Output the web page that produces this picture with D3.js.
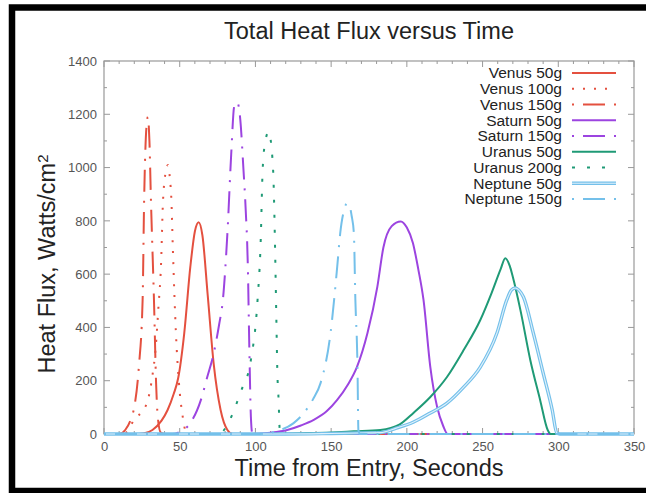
<!DOCTYPE html>
<html>
<head>
<meta charset="utf-8">
<script src="https://cdn.jsdelivr.net/npm/d3@7"></script>
<style>
  body { margin: 0; background: #fff; }
  text { font-family: "Liberation Sans", Arial, Helvetica, sans-serif; }
</style>
</head>
<body>
<script>
// series values (time in s, heat flux in W/cm2)
var venus50T  = [0, 20, 26, 32, 38, 42, 46, 49, 53, 57, 60, 62.5, 65, 68.5, 72.5, 77, 81.5, 85, 350];
var venus50V  = [0, 0, 2, 15, 50, 90, 150, 210, 379, 627, 760, 795, 745, 520, 260, 90, 15, 0, 0];
var venus100T = [0, 13, 20, 25, 29, 32, 34, 36, 37.6, 39, 41, 42.3, 43.5, 44.5, 45.5, 47.5, 49.5, 52, 54, 57, 350];
var venus100V = [0, 0, 53, 85, 128, 220, 315, 480, 627, 878, 990, 1010, 960, 878, 690, 379, 191, 64, 10, 0, 0];
var venus150T = [0, 10, 14, 18, 20, 23, 25.5, 26.5, 28, 29, 30, 31, 33, 34.4, 35.5, 37.5, 40, 350];
var venus150V = [0, 0, 15, 60, 101, 251, 503, 878, 1150, 1190, 1100, 878, 503, 191, 64, 5, 0, 0];
var saturn50T = [0, 95, 110, 121, 130, 138.5, 147, 154, 161, 167, 174, 180.5, 184.5, 190, 196, 200, 204, 207.5, 211, 215.5, 220, 224, 227, 350];
var saturn50V = [0, 0, 5, 15, 32, 53, 85, 128, 185, 251, 379, 552, 700, 780, 798, 775, 717, 620, 503, 251, 101, 30, 0, 0];
var saturn150T = [0, 45, 50, 57, 64, 68, 72.5, 76, 78.5, 81.5, 84, 86, 88, 90, 92, 93.5, 95, 96, 97, 98, 100, 350];
var saturn150V = [0, 0, 8, 41, 128, 210, 304, 410, 503, 754, 1050, 1230, 1245, 1180, 1002, 850, 627, 315, 64, 0, 0, 0];
var uranus50T = [0, 100, 130, 150, 165, 182.5, 195, 204.5, 215.5, 226.5, 237.5, 248.5, 256, 262, 265, 268, 270, 275, 281.5, 288, 293, 295, 350];
var uranus50V = [0, 0, 3, 6, 10, 15, 35, 80, 139, 214, 315, 428, 530, 620, 660, 630, 589, 465, 278, 128, 15, 0, 0];
var uranus200T = [0, 70, 77, 84, 90, 97, 101.4, 103.5, 104.6, 106, 108.8, 110.5, 112, 113, 113.8, 114.5, 115.3, 116, 117, 350];
var uranus200V = [0, 0, 5, 64, 154, 278, 503, 728, 965, 1080, 1135, 1080, 942, 690, 439, 229, 128, 20, 0, 0];
var neptune50T = [0, 120, 150, 170, 182.5, 193, 204.5, 215.5, 226.5, 237.5, 248.5, 259.5, 266, 269, 271.5, 274, 277, 283.5, 290, 296, 299, 301, 350];
var neptune50V = [0, 0, 2, 4, 5, 22, 45, 79, 116, 176, 251, 379, 503, 540, 548, 540, 514, 379, 229, 90, 4, 0, 0];
var neptune150T = [0, 100, 110, 116.6, 125, 132, 138, 143, 149.6, 154, 156, 158.5, 160.5, 162, 163.5, 165, 166, 167.4, 168, 169, 350];
var neptune150V = [0, 0, 5, 15, 40, 79, 130, 191, 379, 627, 754, 840, 865, 860, 820, 754, 503, 251, 15, 0, 0];

var seriesNames = ["Venus 50g", "Venus 100g", "Venus 150g", "Saturn 50g", "Saturn 150g",
                   "Uranus 50g", "Uranus 200g", "Neptune 50g", "Neptune 150g"];
var xTicks = [0, 50, 100, 150, 200, 250, 300, 350];
var yTicks = [0, 200, 400, 600, 800, 1000, 1200, 1400];

var red = "#e4503f", purple = "#9c44e0", green = "#1f9a76", blue = "#74c0ea";
var dot = "2,9", dotdash = "2,9,22,9", sparse = "3,12";

var series = [
  {t: venus50T,    v: venus50V,    color: red,    dash: null},
  {t: venus100T,   v: venus100V,   color: red,    dash: dot},
  {t: venus150T,   v: venus150V,   color: red,    dash: dotdash},
  {t: saturn50T,   v: saturn50V,   color: purple, dash: null},
  {t: saturn150T,  v: saturn150V,  color: purple, dash: dotdash},
  {t: uranus50T,   v: uranus50V,   color: green,  dash: null},
  {t: uranus200T,  v: uranus200V,  color: green,  dash: sparse},
  {t: neptune50T,  v: neptune50V,  color: blue,   dash: null, dbl: true},
  {t: neptune150T, v: neptune150V, color: blue,   dash: dotdash}
];

var width = 646, height = 493;
var pLeft = 104, pRight = 634, pTop = 61, pBottom = 434;

var svg = d3.select("body").append("svg")
  .attr("width", width)
  .attr("height", height);

// outer black frame (right side falls outside the picture)
svg.append("rect")
  .attr("x", 12).attr("y", 7.5)
  .attr("width", 700).attr("height", 483.5)
  .attr("fill", "none").attr("stroke", "#000").attr("stroke-width", 6.5);

var x = d3.scaleLinear().domain([0, 350]).range([pLeft, pRight]);
var y = d3.scaleLinear().domain([0, 1400]).range([pBottom, pTop]);

var axisColor = "#999";

// ticks, gnuplot style: inward on all four sides, minor ticks between
var minorX = d3.range(0, 351, 10), minorY = d3.range(0, 1401, 100);
var tk = svg.append("g").attr("stroke", axisColor).attr("stroke-width", 1);
minorX.forEach(function(d) {
  var len = d % 50 == 0 ? 6 : 3;
  tk.append("line").attr("x1", x(d)).attr("x2", x(d)).attr("y1", pBottom).attr("y2", pBottom - len);
  tk.append("line").attr("x1", x(d)).attr("x2", x(d)).attr("y1", pTop).attr("y2", pTop + len);
});
minorY.forEach(function(d) {
  var len = d % 200 == 0 ? 6 : 3;
  tk.append("line").attr("y1", y(d)).attr("y2", y(d)).attr("x1", pLeft).attr("x2", pLeft + len);
  tk.append("line").attr("y1", y(d)).attr("y2", y(d)).attr("x1", pRight).attr("x2", pRight - len);
});

svg.append("rect")
  .attr("x", pLeft).attr("y", pTop)
  .attr("width", pRight - pLeft).attr("height", pBottom - pTop)
  .attr("fill", "none").attr("stroke", axisColor).attr("stroke-width", 1.2);

// tick labels through d3 axes, lines hidden
var xAxis = svg.append("g")
  .attr("transform", "translate(0," + (pBottom + 8) + ")")
  .call(d3.axisBottom(x).tickValues(xTicks).tickFormat(d3.format("d")).tickSize(0).tickPadding(0));
var yAxis = svg.append("g")
  .attr("transform", "translate(" + (pLeft - 7) + ",0)")
  .call(d3.axisLeft(y).tickValues(yTicks).tickFormat(d3.format("d")).tickSize(0).tickPadding(0));
[xAxis, yAxis].forEach(function(a) {
  a.select(".domain").remove();
  a.selectAll("text")
    .style("font-family", "'Liberation Sans', Arial, sans-serif")
    .style("font-size", "13px")
    .attr("fill", "#555");
});

// curves
var line = d3.line()
  .x(function(d) { return x(d[0]); })
  .y(function(d) { return y(d[1]); })
  .curve(d3.curveMonotoneX);

svg.append("clipPath").attr("id", "clip")
  .append("rect").attr("x", pLeft).attr("y", pTop - 2)
  .attr("width", pRight - pLeft).attr("height", pBottom - pTop + 4);

var plot = svg.append("g").attr("clip-path", "url(#clip)");
series.forEach(function(s) {
  var pts = s.t.map(function(t, i) { return [t, s.v[i]]; });
  plot.append("path")
    .attr("d", line(pts))
    .attr("fill", "none")
    .attr("stroke", s.color)
    .attr("stroke-width", s.dbl ? 3.4 : 2)
    .attr("stroke-dasharray", s.dash)
    .attr("stroke-linejoin", "round");
  if (s.dbl) {
    plot.append("path")
      .attr("d", line(pts))
      .attr("fill", "none")
      .attr("stroke", "#dff0fb")
      .attr("stroke-width", 1.1);
  }
});

// legend
var leg = svg.append("g");
seriesNames.forEach(function(name, i) {
  var s = series[i];
  var yy = 73 + i * 15.75;
  leg.append("text")
    .attr("x", 562).attr("y", yy).attr("dy", "0.35em")
    .attr("text-anchor", "end")
    .style("font-size", "15.5px")
    .attr("fill", "#222")
    .text(name);
  leg.append("line")
    .attr("x1", 572).attr("x2", 616).attr("y1", yy).attr("y2", yy)
    .attr("stroke", s.color)
    .attr("stroke-width", s.dbl ? 3.4 : 2)
    .attr("stroke-dasharray", s.dash);
  if (s.dbl) {
    leg.append("line")
      .attr("x1", 572).attr("x2", 616).attr("y1", yy).attr("y2", yy)
      .attr("stroke", "#dff0fb").attr("stroke-width", 1.1);
  }
});

// titles
svg.append("text")
  .attr("x", (pLeft + pRight) / 2).attr("y", 39)
  .attr("text-anchor", "middle")
  .style("font-size", "23.5px").attr("fill", "#222")
  .text("Total Heat Flux versus Time");

svg.append("text")
  .attr("x", (pLeft + pRight) / 2).attr("y", 476)
  .attr("text-anchor", "middle")
  .style("font-size", "23.5px").attr("fill", "#222")
  .text("Time from Entry, Seconds");

var yt = svg.append("text")
  .attr("transform", "translate(55,264) rotate(-90)")
  .attr("text-anchor", "middle")
  .style("font-size", "23.5px").attr("fill", "#222");
yt.append("tspan").text("Heat Flux, Watts/cm");
yt.append("tspan").attr("dy", "-0.45em").style("font-size", "15px").text("2");
</script>
</body>
</html>
